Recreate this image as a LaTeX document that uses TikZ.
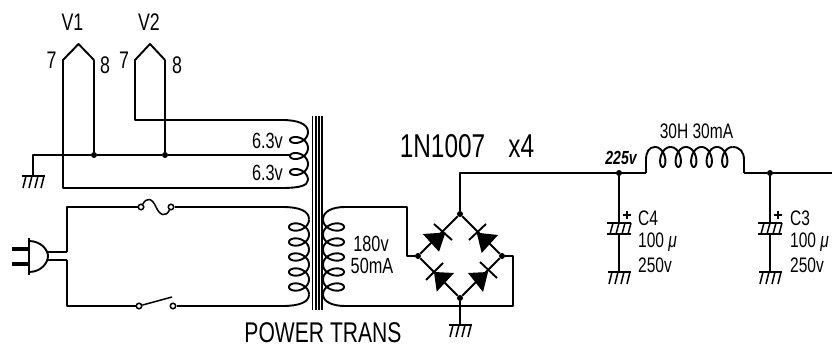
\documentclass[tikz,border=0pt]{standalone}
\usepackage{fontspec}
\setmainfont[FakeStretch=0.74]{Liberation Sans}
\newcommand\gndsym[1]{\begin{scope}[shift={(#1)}]
  \draw[wire] (-11,0) -- (12,0);
  \foreach \gx in {-6,0,6,12} \draw[thin wire] (\gx-1,0) -- (\gx-4,12);
\end{scope}}
\newcommand\capsym[1]{\begin{scope}[shift={(#1)}]
  \draw[wire] (-12,0) -- (12,0) (-12,11) -- (12,11);
  \foreach \gx in {-5,1,7,13} \draw[thin wire] (\gx-1,0) -- (\gx-4,11);
  \draw[thin wire] (4,-8) -- (12,-8) (8,-12) -- (8,-4);
\end{scope}}
\newcommand\vcoil[6]{% spine x, first y, turns, pitch, signed amplitude, sway
  \draw[wire] plot[domain=0:360*#3,samples=40*#3+1,smooth]
    ({#1-#5+#5*cos(\x)},{#2+\x/360*#4+#6*sin(\x)});}
\begin{document}
\begin{tikzpicture}[x=1pt,y=-1pt,
  wire/.style={line width=1.9pt,line join=round},
  thin wire/.style={line width=1.5pt},
  core/.style={line width=1.3pt},
  lab/.style={inner sep=0pt,anchor=center},
  dot/.style={circle,fill=black,inner sep=0pt,minimum size=6pt},
  term/.style={circle,draw=black,fill=white,line width=1.5pt,inner sep=0pt,minimum size=5.5pt}]
\useasboundingbox (0,0) rectangle (832,347);
\fill[white] (0,0) rectangle (832,347);

% named points
\coordinate (v1l) at (63,60); \coordinate (v1t) at (78.5,44); \coordinate (v1r) at (94,60);
\coordinate (v2l) at (135,60); \coordinate (v2t) at (150,44); \coordinate (v2r) at (165,60);
\node[dot] (j1) at (94,155) {};
\node[dot] (j2) at (165,155) {};
\coordinate (h1) at (282,120); \coordinate (hm) at (291,155); \coordinate (h3) at (282,188);
\coordinate (g1) at (33,155); \coordinate (g1b) at (33,176);
\coordinate (p1) at (282,207); \coordinate (p2) at (282,306);
\coordinate (s1) at (345,207); \coordinate (s2) at (345,306);
\node[dot] (bt) at (460,214) {};
\node[dot] (bl) at (418,256) {};
\node[dot] (br) at (502,256) {};
\node[dot] (bb) at (460,298) {};
\coordinate (g2) at (460,325);
\coordinate (c1) at (513,256);
\coordinate (lA) at (646,173); \coordinate (lB) at (744,173);
\node[dot] (j4) at (619,173) {};
\node[dot] (j3) at (770,173) {};
\coordinate (c4t) at (619,223); \coordinate (c4b) at (619,234); \coordinate (g4) at (619,272);
\coordinate (c3t) at (770,223); \coordinate (c3b) at (770,234); \coordinate (g3) at (770,272);
\coordinate (e) at (832,173);
\node[term] (ft1) at (141,207) {};
\node[term] (ft2) at (171,207) {};
\node[term] (sw1) at (139,306) {};
\node[term] (sw2) at (173,306) {};
\coordinate (la) at (67,207); \coordinate (lb) at (67,306);
\coordinate (pl1) at (67,252); \coordinate (pl2) at (67,260);

% heaters
\draw[wire] (v1r) -- (v1t) -- (v1l) -- (v1l |- h3) -- (h3);
\draw[wire] (v1r) -- (j1);
\draw[wire] (v2r) -- (v2t) -- (v2l) -- (v2l |- h1) -- (h1);
\draw[wire] (v2r) -- (j2);
\draw[wire] (g1b) -- (g1) -- (j1) -- (j2) -- (hm);
\gndsym{g1b}
\draw[wire] (h1) .. controls (298,120) and (308,124) .. (308,132);
\draw[wire] (h3) .. controls (298,188) and (308,186) .. (308,180);
\vcoil{308}{132}{3}{16}{9}{6.5}

% core
\foreach \cx in {312.5,316,319,322} \draw[core] (\cx,116) -- (\cx,310);

% primary
\draw[wire] (pl1) -- (la) -- (ft1);
\draw[wire] (ft2) -- (p1);
\draw[wire] (pl2) -- (lb) -- (sw1);
\draw[wire] (sw2) -- (p2);
\draw[thin wire] (ft1) .. controls (147,197) and (152,198) .. (156,207) .. controls (160,216) and (166,217) .. (ft2);
\draw[thin wire] (sw1) -- (172,297);
\draw[wire] (p1) .. controls (300,207) and (309,211) .. (309,219.5);
\draw[wire] (p2) .. controls (300,306) and (309,302) .. (309,294.5);
\vcoil{309}{219.5}{5}{15}{10}{7}

% plug
\draw[line width=3.5pt] (12,249) -- (29,249) (12,264) -- (29,264);
\draw[line width=2.4pt] (29,238) -- (29,275);
\draw[wire] (29,241) .. controls (41,241) and (48,250) .. (48,256) .. controls (48,263) and (41,272) .. (29,272);
\draw[wire] (47,252) -- (pl1) (47,260) -- (pl2);

% secondary
\draw[wire] (s1) .. controls (333,207) and (323,211) .. (323,219.5);
\draw[wire] (s2) .. controls (333,306) and (323,302) .. (323,294.5);
\vcoil{323}{219.5}{5}{15}{-10.5}{7}
\draw[wire] (s1) -| (407,256) -- (bl);
\draw[wire] (s2) -| (c1) -- (br);

% bridge
\draw[wire] (bt) -- (bl) -- (bb) -- (br) -- (bt);
\draw[wire] (bt) |- (lA);
\draw[wire] (bb) -- (g2);
\gndsym{g2}
\fill (445.5,232.5) -- (422.7,234) -- (439,251.7) -- cycle;
\draw[wire] (434,224) -- (452,240);
\fill (476.7,232.7) -- (498,235) -- (481.7,253) -- cycle;
\draw[wire] (469,240) -- (486,224);
\fill (434,272) -- (454,273) -- (436.7,291.7) -- cycle;
\draw[wire] (426,280) -- (443,263);
\fill (488,272) -- (468,273) -- (483,292) -- cycle;
\draw[wire] (480,262) -- (497,278);

% choke
\draw[wire] (lA) -- (646,160) .. controls (646,152) and (649,147) .. (655,147);
\draw[wire] plot[domain=0:1800,samples=201,smooth] ({655+\x/360*15.5+6*sin(\x)},{157-10*cos(\x)});
\draw[wire] (732.5,147) .. controls (740,147) and (744,152) .. (744,160) -- (lB);
\draw[wire] (lB) -- (j3) -- (e);

% capacitors
\draw[wire] (j4) -- (c4t) (c4b) -- (g4);
\draw[wire] (j3) -- (c3t) (c3b) -- (g3);
\capsym{c4t} \capsym{c3t}
\gndsym{g4} \gndsym{g3}

% labels
\newcommand\fsz[1]{\fontsize{#1}{#1}\selectfont}
\node[lab] (tv1) at (72.5,22) {\fsz{24}V1};
\node[lab] (tv2) at (149,22) {\fsz{24}V2};
\node[lab] (t7a) at (51.5,60) {\fsz{24}7};
\node[lab] (t8a) at (105,65) {\fsz{24}8};
\node[lab] (t7b) at (124,60) {\fsz{24}7};
\node[lab] (t8b) at (177,65) {\fsz{24}8};
\node[lab] (th1) at (267.5,141) {\fsz{22}6.3v};
\node[lab] (th2) at (267.5,173) {\fsz{22}6.3v};
\node[lab] (ts1) at (371,244) {\fsz{22}180v};
\node[lab] (ts2) at (372,266) {\fsz{22}50mA};
\node[lab] (tpt) at (323,333) {\fsz{28.5}POWER TRANS};
\node[lab] (tdi) at (467,146) {\fsz{33}1N1007\hspace{0.7em}x4};
\node[lab] (tl) at (696.5,131) {\fsz{21}30H 30mA};
\node[lab] (tv) at (621,158) {\fsz{19}\bfseries\itshape 225v};
\node[lab,anchor=west] (tc4a) at (638,218) {\fsz{21}C4};
\node[lab,anchor=west] (tc4b) at (638,242) {\fsz{21}100 \itshape μ};
\node[lab,anchor=west] (tc4c) at (638,265) {\fsz{21}250v};
\node[lab,anchor=west] (tc3a) at (790,218) {\fsz{21}C3};
\node[lab,anchor=west] (tc3b) at (790,242) {\fsz{21}100 \itshape μ};
\node[lab,anchor=west] (tc3c) at (790,265) {\fsz{21}250v};
\end{tikzpicture}
\end{document}
